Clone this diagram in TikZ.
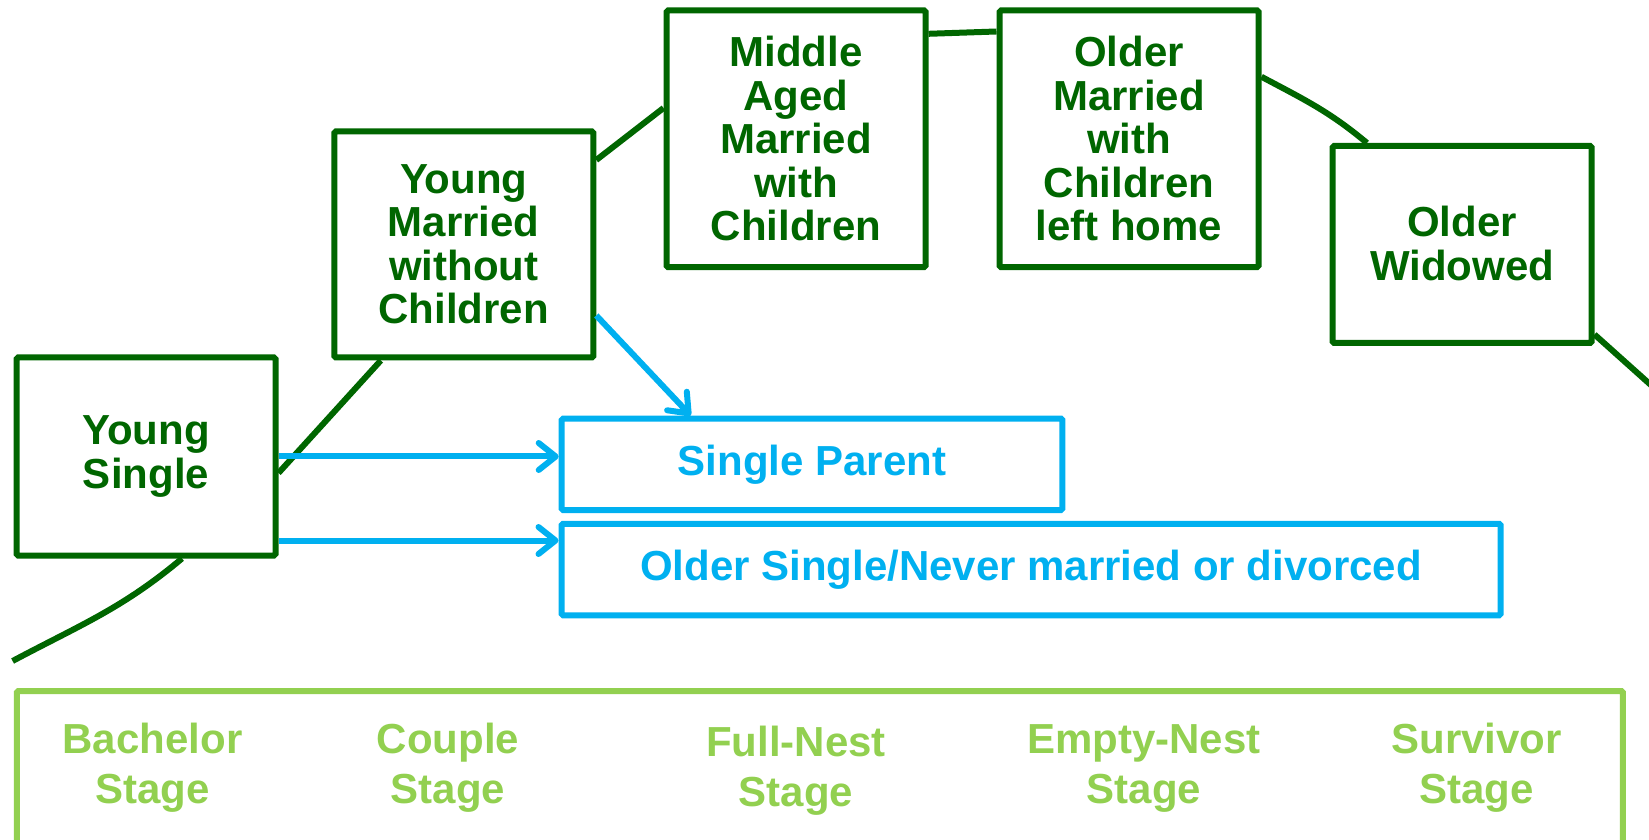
\documentclass[tikz,border=0pt]{standalone}
\usepackage{fontspec}
\setmainfont{Liberation Sans}
\usetikzlibrary{arrows.meta}
\definecolor{darkgreen}{HTML}{006600}
\definecolor{skyblue}{HTML}{00B0F0}
\definecolor{leafgreen}{HTML}{92D050}
\begin{document}
\begin{tikzpicture}[x=1pt,y=1pt,
  lifebox/.style={draw=darkgreen,line width=6pt,fill=white,rounded corners=1.5pt,
    inner sep=0pt,align=center,text=darkgreen,
    font=\fontsize{42}{43.5}\selectfont\bfseries},
  altbox/.style={draw=skyblue,line width=6pt,fill=white,rounded corners=1.5pt,
    inner sep=0pt,text=skyblue,minimum height=91.5pt,
    font=\fontsize{42}{44}\selectfont\bfseries},
  stagelabel/.style={align=center,text=leafgreen,inner sep=0pt,
    font=\fontsize{42}{50}\selectfont\bfseries},
  lifeline/.style={draw=darkgreen,line width=6pt},
  altarrow/.style={draw=skyblue,line width=6pt,
    -{Straight Barb[length=17pt,width=27pt,round]}}]
\useasboundingbox (0,0) rectangle (1649,839);

% life-cycle stages
\node[lifebox,minimum width=259pt,minimum height=198pt] (ys) at (146,382.5) {Young\\Single};
\node[lifebox,minimum width=259pt,minimum height=226pt] (ym) at (463.8,594.5) {Young\\Married\\without\\Children};
\node[lifebox,minimum width=259pt,minimum height=256.6pt] (ma) at (796,700.2) {Middle\\Aged\\Married\\with\\Children};
\node[lifebox,minimum width=259pt,minimum height=256.6pt] (om) at (1129,700.2) {Older\\Married\\with\\Children\\left home};
\node[lifebox,minimum width=259pt,minimum height=197pt] (ow) at (1462,594.5) {\raisebox{2pt}{Older}\\\raisebox{2pt}{Widowed}};

% alternative paths
\node[altbox,minimum width=500.6pt] (sp) at (812,374.7) {Single Parent};
\node[altbox,minimum width=939pt] (os) at (1031,269.5) {Older Single/Never married or divorced};

% curve through the stages
\coordinate (cstart) at (12.6,178);
\coordinate (cend) at (1662,444);
\draw[lifeline] (cstart) to[out=28,in=220] ([xshift=36pt]ys.south);
\draw[lifeline] ([yshift=-16.5pt]ys.east) -- ([xshift=-83pt]ym.south);
\draw[lifeline] ([yshift=84.5pt]ym.east) -- ([yshift=30.8pt]ma.west);
\draw[lifeline] ([yshift=105pt]ma.east) -- ([yshift=107.3pt]om.west);
\draw[lifeline] ([yshift=62pt]om.east) to[out=-28,in=140] ([xshift=-95pt]ow.north);
\draw[lifeline] ([yshift=-90pt]ow.east) -- (cend);

% arrows to alternative paths
\draw[altarrow] (ys.east) -- (ys.east -| sp.west);
\draw[altarrow] ([yshift=-84pt]ys.east) -- ([yshift=-84pt]ys.east -| os.west);
\draw[altarrow] ([yshift=45pt]ym.south east) -- ([xshift=132pt]sp.north west);

% stage band
\node[draw=leafgreen,line width=6pt,inner sep=0pt,minimum width=1606pt,minimum height=220pt,
  rounded corners=1.5pt] (band) at (819.8,38) {};
\node[stagelabel] (bach) at (152.5,71) {Bachelor\\Stage};
\node[stagelabel] (coup) at (448,71) {Couple\\Stage};
\node[stagelabel] (full) at (796,68.5) {Full-Nest\\Stage};
\node[stagelabel] (empt) at (1144,71) {Empty-Nest\\Stage};
\node[stagelabel] (surv) at (1476.6,71) {Survivor\\Stage};
\end{tikzpicture}
\end{document}
